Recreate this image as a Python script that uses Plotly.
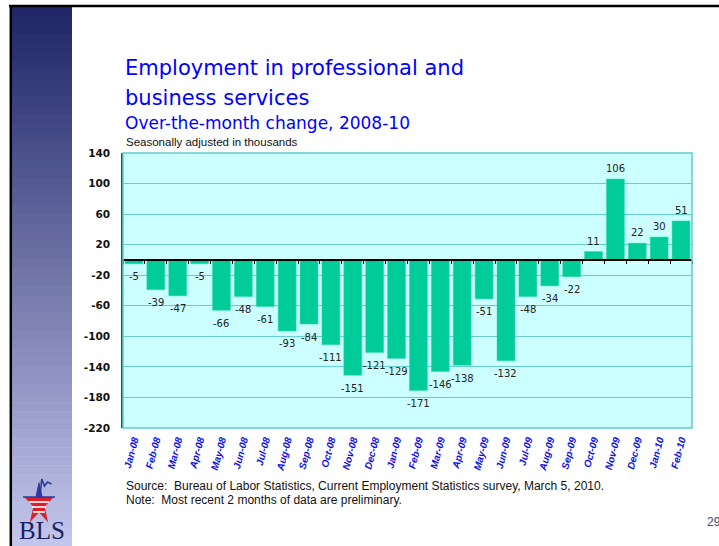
import math
import plotly.graph_objects as go

# ---------------- data ----------------
months = ["Jan-08", "Feb-08", "Mar-08", "Apr-08", "May-08", "Jun-08", "Jul-08",
          "Aug-08", "Sep-08", "Oct-08", "Nov-08", "Dec-08", "Jan-09", "Feb-09",
          "Mar-09", "Apr-09", "May-09", "Jun-09", "Jul-09", "Aug-09", "Sep-09",
          "Oct-09", "Nov-09", "Dec-09", "Jan-10", "Feb-10"]
change = [-5, -39, -47, -5, -66, -48, -61, -93, -84, -111, -151, -121, -129,
          -171, -146, -138, -51, -132, -48, -34, -22, 11, 106, 22, 30, 51]
y_ticks = [140, 100, 60, 20, -20, -60, -100, -140, -180, -220]
y_range = [-220, 140]

# ---------------- geometry helpers (decoration only) ----------------
WIDTH, HEIGHT = 719, 546
ML, MR, MT, MB = 123, 27, 153, 118
PW = WIDTH - ML - MR
PH = HEIGHT - MT - MB


def fx(px):
    return (px - ML) / PW


def fy(py):
    return (HEIGHT - MB - py) / PH


fig = go.Figure()

fig.add_trace(go.Bar(
    x=months, y=change,
    marker=dict(color="#00CC99", line=dict(color="#33DDAA", width=0.5)),
    hoverinfo="x+y",
    showlegend=False,
))

# invisible trace so the zero-line axis (x2) is drawn
fig.add_trace(go.Scatter(x=[None], y=[None], xaxis="x2", yaxis="y",
                         showlegend=False, hoverinfo="skip"))

shapes = []

# left gradient band
top_c = (30, 36, 102)
bot_c = (196, 199, 236)
y_start, y_end = 7, 546
n = 60
step = (y_end - y_start) / n
for i in range(n):
    t = (i + 0.5) / n
    c = tuple(int(round(top_c[k] + (bot_c[k] - top_c[k]) * t)) for k in range(3))
    shapes.append(dict(type="rect", xref="paper", yref="paper",
                       x0=fx(12), x1=fx(72),
                       y0=fy(y_start + i * step), y1=fy(y_start + (i + 1) * step + 0.6),
                       fillcolor="rgb(%d,%d,%d)" % c, line=dict(width=0), layer="below"))

# black slide border (top + left)
shapes.append(dict(type="line", xref="paper", yref="paper",
                   x0=fx(9), x1=fx(719), y0=fy(6), y1=fy(6),
                   line=dict(color="black", width=2.5)))
shapes.append(dict(type="line", xref="paper", yref="paper",
                   x0=fx(10.8), x1=fx(10.8), y0=fy(5), y1=fy(546),
                   line=dict(color="black", width=2.5)))

# plot-area border
shapes.append(dict(type="rect", xref="paper", yref="paper",
                   x0=0, x1=1, y0=0, y1=1,
                   line=dict(color="#66CCCC", width=1.5), layer="above"))

# BLS logo: star
cx, cy, R, sy = 39, 504, 15.5, 1.45
pts = []
for k in range(10):
    ang = math.radians(-90 + 36 * k)
    r = R if k % 2 == 0 else R * 0.382
    pts.append((cx + r * math.cos(ang), cy + r * math.sin(ang) * sy))
path = "M " + " L ".join("%f,%f" % (fx(px), fy(py)) for px, py in pts) + " Z"
shapes.append(dict(type="path", xref="paper", yref="paper", path=path,
                   fillcolor="#D8202E", line=dict(width=0)))
tri = [pts[9], pts[0], pts[1]]
path2 = "M " + " L ".join("%f,%f" % (fx(px), fy(py)) for px, py in tri) + " Z"
shapes.append(dict(type="path", xref="paper", yref="paper", path=path2,
                   fillcolor="#2B3C9E", line=dict(width=0)))
for (yy, xa, xb) in [(502, 29, 49), (507, 32, 46), (512, 33, 45)]:
    shapes.append(dict(type="line", xref="paper", yref="paper",
                       x0=fx(xa), x1=fx(xb), y0=fy(yy), y1=fy(yy),
                       line=dict(color="white", width=1.6)))
shapes.append(dict(type="line", xref="paper", yref="paper",
                   x0=fx(23), x1=fx(55), y0=fy(497), y1=fy(497),
                   line=dict(color="#2B3C9E", width=1.5)))
squig = [(38, 497), (40.5, 491), (41.8, 479), (44.5, 486), (47.5, 482), (51.5, 484)]
path3 = "M " + " L ".join("%f,%f" % (fx(px), fy(py)) for px, py in squig)
shapes.append(dict(type="path", xref="paper", yref="paper", path=path3,
                   line=dict(color="#2B3C9E", width=1.6)))

annotations = []

# value labels, placed from the data through the axes
for m, v in zip(months, change):
    annotations.append(dict(
        x=m, y=v, xref="x", yref="y", text=str(v), showarrow=False,
        xanchor="center", yanchor="middle",
        yshift=10.5 if v > 0 else -13,
        font=dict(family="DejaVu Sans", size=10, color="#222222"),
    ))


def txt(s, px, py, size, color, family, xanchor="left", yanchor="middle", weight="normal"):
    annotations.append(dict(text=s, xref="paper", yref="paper", x=fx(px), y=fy(py),
                            xanchor=xanchor, yanchor=yanchor, showarrow=False,
                            font=dict(size=size, color=color, family=family, weight=weight)))


txt("Employment in professional and", 123, 68, 21, "#0000FF", "DejaVu Sans")
txt("business services", 123, 98, 21, "#0000FF", "DejaVu Sans")
txt("Over-the-month change, 2008-10", 123, 123, 17, "#0000FF", "DejaVu Sans")
txt("Seasonally adjusted in thousands", 124, 142, 11.5, "#111111", "Liberation Sans")
txt("Source:  Bureau of Labor Statistics, Current Employment Statistics survey, March 5, 2010.",
    124, 486, 12, "#111111", "Liberation Sans")
txt("Note:  Most recent 2 months of data are preliminary.",
    124, 500, 12, "#111111", "Liberation Sans")
txt("29", 705, 522, 12, "#4A4A6A", "Liberation Sans")
txt("BLS", 42, 530, 25, "#1A2060", "Liberation Serif", xanchor="center")

fig.update_layout(
    width=WIDTH, height=HEIGHT,
    margin=dict(l=ML, r=MR, t=MT, b=MB, pad=0),
    paper_bgcolor="white",
    plot_bgcolor="#CCFFFF",
    bargap=0.18,
    shapes=shapes,
    annotations=annotations,
    xaxis=dict(
        type="category",
        tickangle=-75,
        tickfont=dict(family="Liberation Sans", size=10, color="#1010EE",
                      weight="bold", style="italic"),
        showgrid=False, zeroline=False, showline=False,
        ticks="", ticklabelstandoff=3,
    ),
    xaxis2=dict(
        overlaying="x", anchor="free",
        position=(0 - y_range[0]) / (y_range[1] - y_range[0]),
        range=[-0.5, len(months) - 0.5],
        tickmode="linear", tick0=-0.5, dtick=1,
        showticklabels=False, showgrid=False, zeroline=False,
        showline=True, linecolor="black", linewidth=1.5,
        ticks="outside", ticklen=3, tickwidth=1, tickcolor="black",
    ),
    yaxis=dict(
        range=y_range,
        tickmode="array", tickvals=y_ticks,
        ticktext=[str(v) for v in y_ticks],
        tickfont=dict(family="DejaVu Sans", size=10.5, color="#111111", weight="bold"),
        gridcolor="#66CCCC", gridwidth=1.3,
        zeroline=False,
        showline=True, linecolor="#006666", linewidth=1.5,
        ticks="", ticklabelstandoff=9,
    ),
)

fig.write_html(
    "out.html",
    config={"displayModeBar": False},
    post_script="document.body.style.margin='0';document.body.style.padding='0';"
                "document.body.style.overflow='hidden';",
)
